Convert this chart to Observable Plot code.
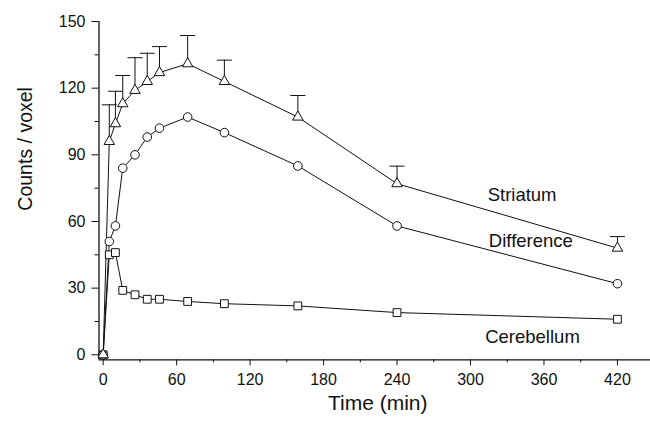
<!DOCTYPE html>
<html>
<head>
<meta charset="utf-8">
<script src="https://cdn.jsdelivr.net/npm/d3@7"></script>
<script src="https://cdn.jsdelivr.net/npm/@observablehq/plot@0.6"></script>
<style>
  html, body { margin: 0; padding: 0; background: #fff; }
  #chart svg { display: block; }
</style>
</head>
<body>
<div id="chart"></div>
<script>
// Data
const times        = [0, 5, 10, 16, 26, 36, 46, 69, 99, 159, 240, 420];
const striatum     = [0, 96, 104, 113, 119, 123, 127, 131, 123, 107, 77, 48];
const striatumUp   = [null, 112.5, 118.6, 125.7, 133.7, 135.7, 138.7, 143.7, 132.6, 116.7, 84.9, 53.2];
const difference   = [0, 51, 58, 84, 90, 98, 102, 107, 100, 85, 58, 32];
const cerebellum   = [0, 45, 46, 29, 27, 25, 25, 24, 23, 22, 19, 16];

const seriesNames  = ["Striatum", "Difference", "Cerebellum"];
const labelTimes   = [314, 315, 312];
const labelValues  = [71.7, 51.1, 7.9];

const xTicks      = [0, 60, 120, 180, 240, 300, 360, 420];
const xMinorTicks = [30, 90, 150, 210, 270, 330, 390];
const yTicks      = [0, 30, 60, 90, 120, 150];
const yMinorTicks = [15, 45, 75, 105, 135];

const xDomain = [-3.4, 447];
const yDomain = [-2.25, 150];

const idx = d3.range(times.length);
const errIdx = idx.filter(i => striatumUp[i] != null);

const capSymbol = {
  draw(context) {
    context.moveTo(-7.5, 0);
    context.lineTo(7.5, 0);
  }
};

const ink = "#111";

const chart = Plot.plot({
  width: 650,
  height: 421,
  marginLeft: 98.5,
  marginRight: 0,
  marginTop: 21,
  marginBottom: 61.7,
  style: { fontFamily: "'Liberation Sans', Arial, sans-serif", fontSize: "16px", background: "#fff", color: ink },
  x: { domain: xDomain },
  y: { domain: yDomain },
  marks: [
    // axis lines
    Plot.ruleX([xDomain[0]], { stroke: ink, strokeWidth: 1.3 }),
    Plot.ruleY([yDomain[0]], { stroke: ink, strokeWidth: 1.3 }),
    // axes
    Plot.axisY({ ticks: yTicks, tickSize: 7, tickPadding: 6.5, label: null, fontSize: 16, stroke: ink }),
    Plot.axisY({ ticks: yMinorTicks, tickSize: 4, text: null, label: null, stroke: ink }),
    Plot.axisX({ ticks: xTicks, tickSize: 6, tickPadding: 8, label: null, fontSize: 16, stroke: ink }),
    Plot.axisX({ ticks: xMinorTicks, tickSize: 3, text: null, label: null, stroke: ink }),
    // axis titles
    Plot.text(["Counts / voxel"], { frameAnchor: "left", dx: -73.5, dy: 20, rotate: -90, fontSize: 19.5, fill: ink }),
    Plot.text(["Time (min)"], { frameAnchor: "bottom", dx: 3, dy: 50.4, fontSize: 21, fill: ink }),
    // error bars (upper only)
    Plot.ruleX(errIdx, { x: i => times[i], y1: i => striatum[i], y2: i => striatumUp[i], stroke: ink, strokeWidth: 1 }),
    Plot.dot(errIdx, { x: i => times[i], y: i => striatumUp[i], symbol: capSymbol, stroke: ink, fill: "none", strokeWidth: 1 }),
    // lines
    Plot.line(idx, { x: i => times[i], y: i => cerebellum[i], stroke: ink, strokeWidth: 1 }),
    Plot.line(idx, { x: i => times[i], y: i => difference[i], stroke: ink, strokeWidth: 1 }),
    Plot.line(idx, { x: i => times[i], y: i => striatum[i], stroke: ink, strokeWidth: 1 }),
    // markers
    Plot.dot(idx, { x: i => times[i], y: i => cerebellum[i], symbol: "square", r: 4.4, fill: "#fff", stroke: ink, strokeWidth: 1 }),
    Plot.dot(idx, { x: i => times[i], y: i => difference[i], symbol: "circle", r: 4.3, fill: "#fff", stroke: ink, strokeWidth: 1 }),
    Plot.dot(idx, { x: i => times[i], y: i => striatum[i], symbol: "triangle", r: 3.9, fill: "#fff", stroke: ink, strokeWidth: 1 }),
    // series labels
    Plot.text(seriesNames, { x: (d, i) => labelTimes[i], y: (d, i) => labelValues[i], text: d => d, textAnchor: "start", fontSize: 18.5, fill: ink })
  ]
});

document.getElementById("chart").appendChild(chart);
</script>
</body>
</html>
